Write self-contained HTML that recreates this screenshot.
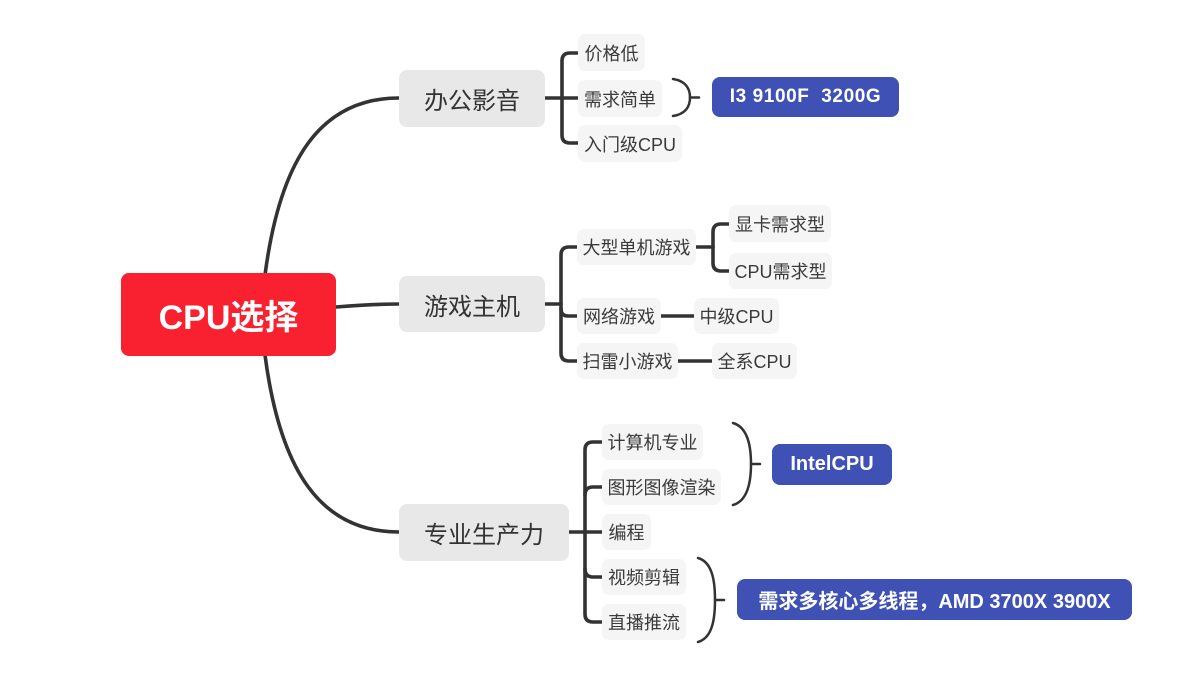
<!DOCTYPE html>
<html><head><meta charset="utf-8">
<style>
html,body{margin:0;padding:0;background:#fff;}
body{width:1179px;height:691px;position:relative;overflow:hidden;font-family:"Liberation Sans","Noto Sans CJK SC",sans-serif;}
.n{position:absolute;display:flex;align-items:center;justify-content:center;white-space:nowrap;box-sizing:border-box;}
.root{background:#F9202F;color:#fff;font-weight:bold;font-size:34px;border-radius:8px;}
.m{background:#E8E8E8;color:#333;font-size:24px;border-radius:8px;}
.s{background:#F5F5F5;color:#3a3a3a;font-size:18px;border-radius:7px;}
.b{background:#3F51B5;color:#fff;font-weight:bold;font-size:20px;border-radius:8px;}
svg{position:absolute;left:0;top:0;}
</style></head><body>
<svg width="1179" height="691" viewBox="0 0 1179 691">
<g fill="none" stroke="#333" stroke-width="3.6" stroke-linecap="round" stroke-linejoin="round">
<path d="M265,275 C280,160 320,98 399,98"/>
<path d="M336,307 C360,305 375,304 399,304"/>
<path d="M265,355 C280,470 320,532 399,532"/>
<!-- office -->
<path d="M545,98 H562"/>
<path d="M578,53 H570 Q562,53 562,61 V135 Q562,143 570,143 H578"/>
<path d="M562,98 H578"/>
<!-- game -->
<path d="M545,304 H561"/>
<path d="M577,247 H569 Q561,247 561,255 V353 Q561,361 569,361 H577"/>
<path d="M561,309 Q561,316 568,316 H577"/>
<path d="M696,247 H713"/>
<path d="M729,224 H721 Q713,224 713,232 V263 Q713,271 721,271 H729"/>
<path d="M661,316 H694"/>
<path d="M678,361 H712"/>
<!-- pro -->
<path d="M569,532 H585"/>
<path d="M602,442 H593 Q585,442 585,450 V614 Q585,622 593,622 H602"/>
<path d="M585,495 Q585,487 593,487 H602"/>
<path d="M585,532 H602"/>
<path d="M585,569 Q585,577 593,577 H602"/>
</g>
<g fill="none" stroke="#333" stroke-width="2.5" stroke-linecap="round">
<path d="M673,79 C686,81 690,89 690,97.5 C690,106 686,114 673,116"/>
<path d="M690,97.5 H699"/>
<path d="M733,423 C747,427 751,445 751,464 C751,484 747,501 733,505"/>
<path d="M751,464 H760"/>
<path d="M698,558 C712,562 715,580 715,600 C715,620 712,638 698,642"/>
<path d="M715,600 H724"/>
</g>
</svg>

<div class="n root" style="left:121px;top:273px;width:215px;height:83px;">CPU选择</div>

<div class="n m" style="left:399px;top:70px;width:146px;height:57px;">办公影音</div>
<div class="n m" style="left:399px;top:276px;width:146px;height:56px;">游戏主机</div>
<div class="n m" style="left:399px;top:504px;width:170px;height:57px;">专业生产力</div>

<div class="n s" style="left:578px;top:34px;width:67px;height:37px;">价格低</div>
<div class="n s" style="left:578px;top:80px;width:84px;height:37px;">需求简单</div>
<div class="n s" style="left:578px;top:125px;width:104px;height:37px;">入门级CPU</div>

<div class="n s" style="left:577px;top:229px;width:119px;height:36px;">大型单机游戏</div>
<div class="n s" style="left:729px;top:205px;width:102px;height:37px;">显卡需求型</div>
<div class="n s" style="left:729px;top:253px;width:103px;height:36px;">CPU需求型</div>
<div class="n s" style="left:577px;top:298px;width:84px;height:36px;">网络游戏</div>
<div class="n s" style="left:694px;top:298px;width:85px;height:36px;">中级CPU</div>
<div class="n s" style="left:577px;top:343px;width:101px;height:36px;">扫雷小游戏</div>
<div class="n s" style="left:712px;top:343px;width:85px;height:36px;">全系CPU</div>

<div class="n s" style="left:602px;top:424px;width:101px;height:36px;">计算机专业</div>
<div class="n s" style="left:602px;top:469px;width:119px;height:36px;">图形图像渲染</div>
<div class="n s" style="left:602px;top:514px;width:49px;height:36px;">编程</div>
<div class="n s" style="left:602px;top:559px;width:84px;height:36px;">视频剪辑</div>
<div class="n s" style="left:602px;top:604px;width:84px;height:36px;">直播推流</div>

<div class="n b" style="left:712px;top:77px;width:187px;height:40px;font-size:19px;letter-spacing:0.6px;">I3 9100F&nbsp;&nbsp;3200G</div>
<div class="n b" style="left:772px;top:444px;width:120px;height:41px;">IntelCPU</div>
<div class="n b" style="left:737px;top:579px;width:395px;height:41px;">需求多核心多线程，AMD 3700X 3900X</div>
</body></html>
